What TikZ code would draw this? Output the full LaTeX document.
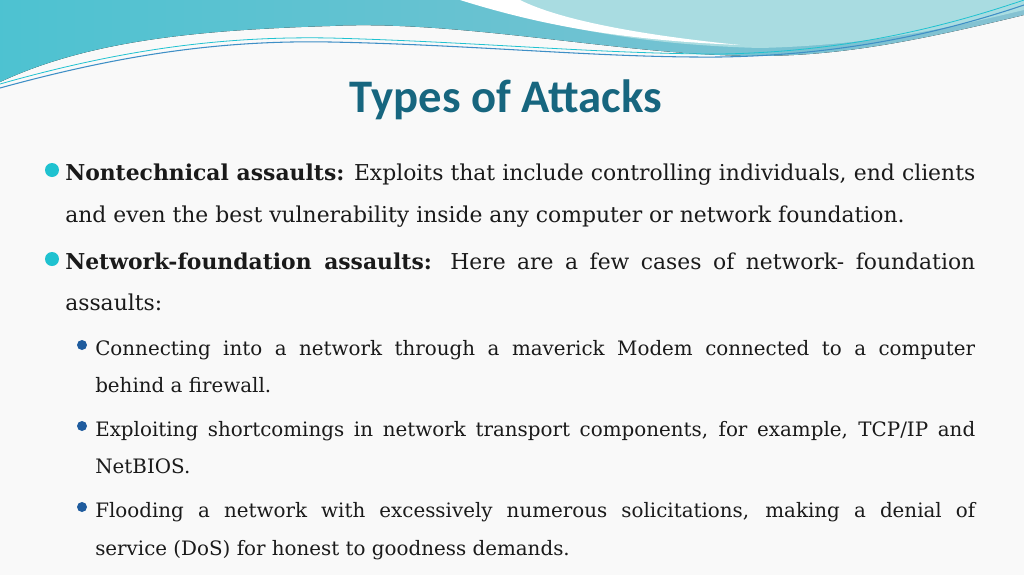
\documentclass[tikz,border=0pt]{standalone}
\usepackage{fontspec}
\setmainfont{DejaVu Serif}
\newfontfamily\titlefont{Carlito}
\definecolor{ttl}{HTML}{17667F}
\definecolor{cy}{HTML}{1FC2D0}
\definecolor{dk}{HTML}{1F5C9E}
\definecolor{wa}{HTML}{86C2D2}
\definecolor{wb}{HTML}{A9DCE1}
\definecolor{wl}{HTML}{3E8FC6}
\definecolor{bg}{HTML}{F9F9F9}
\definecolor{tx}{HTML}{1A1A1A}
\tikzset{
 ln/.style={anchor=base west,inner sep=0,text=tx},
 main/.style={ln,font=\fontsize{16.4}{18}\selectfont},
 sub/.style={ln,font=\fontsize{14.9}{17}\selectfont},
 dotA/.style={circle,fill=cy,inner sep=0,minimum size=10.5pt},
 dotB/.style={circle,fill=dk,inner sep=0,minimum size=7.5pt}
}
\begin{document}
\begin{tikzpicture}[x=0.75pt,y=-0.75pt]
\fill[bg] (0,0) rectangle (1024,575);
\useasboundingbox (0,0) rectangle (1024,575);
% waves
\fill[left color=cy!55!wa,right color=wa] (0,0) -- (1024,0) -- (1024,15) .. controls (900,45) and (820,60) .. (720,55) .. controls (600,50) and (450,20) .. (330,26) .. controls (200,30) and (90,40) .. (0,82) -- cycle;
\fill[wb] (470,0) .. controls (560,30) and (650,45) .. (760,48) .. controls (880,45) and (960,25) .. (1024,10) -- (1024,0) -- cycle;
\fill[white] (460,0) .. controls (540,25) and (620,40) .. (740,45) .. controls (640,35) and (560,20) .. (520,0) -- cycle;
\draw[wl,line width=0.8pt] (0,88) .. controls (120,55) and (220,40) .. (330,42) .. controls (480,45) and (600,58) .. (720,57) .. controls (850,55) and (950,30) .. (1024,5);
\draw[cy,line width=0.6pt] (0,84) .. controls (120,50) and (220,36) .. (330,38) .. controls (480,42) and (600,54) .. (720,54) .. controls (850,52) and (950,25) .. (1024,0);
% title
\node[font=\titlefont\bfseries\fontsize{35}{40}\selectfont,text=ttl,anchor=base] (t) at (506,112) {Types of Attacks};
% bullets
\node[dotA] (d1) at (52,170) {};
\node[main] (l1) at (65,180) {\makebox[682.5pt][s]{\textbf{Nontechnical assaults:} Exploits that include controlling individuals, end clients}};
\node[main] (l2) at (65,222) {and even the best vulnerability inside any computer or network foundation.};
\node[dotA] (d2) at (52,259) {};
\node[main] (l3) at (65,269) {\makebox[682.5pt][s]{\textbf{Network-foundation assaults:} Here are a few cases of network- foundation}};
\node[main] (l4) at (65,310) {assaults:};
\node[dotB] (s1) at (82,345) {};
\node[sub] (l5) at (95,355) {\makebox[660pt][s]{Connecting into a network through a maverick Modem connected to a computer}};
\node[sub] (l6) at (95,392) {behind a firewall.};
\node[dotB] (s2) at (82,426) {};
\node[sub] (l7) at (95,436) {\makebox[660pt][s]{Exploiting shortcomings in network transport components, for example, TCP/IP and}};
\node[sub] (l8) at (95,473) {NetBIOS.};
\node[dotB] (s3) at (82,507) {};
\node[sub] (l9) at (95,517) {\makebox[660pt][s]{Flooding a network with excessively numerous solicitations, making a denial of}};
\node[sub] (l10) at (95,555) {service (DoS) for honest to goodness demands.};
\end{tikzpicture}
\end{document}
